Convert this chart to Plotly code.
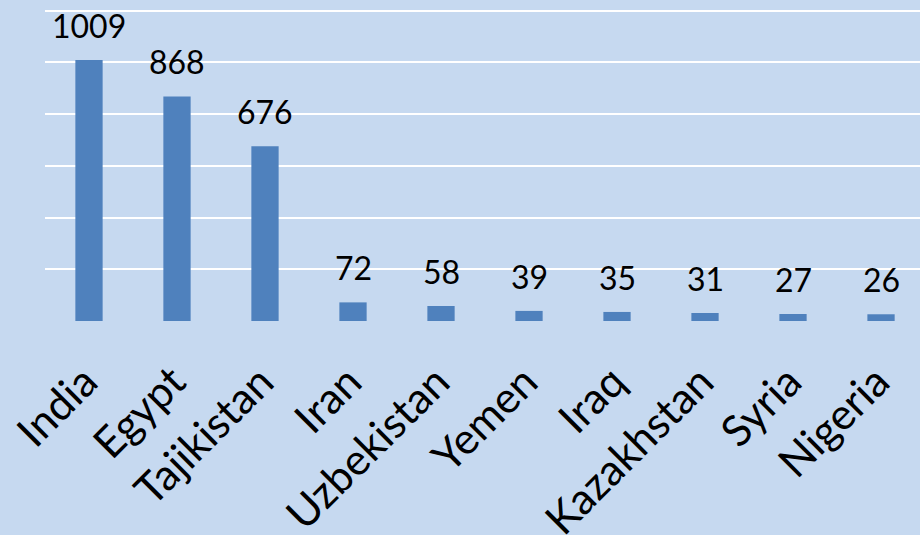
import plotly.graph_objects as go

countries = ["India", "Egypt", "Tajikistan", "Iran", "Uzbekistan", "Yemen",
             "Iraq", "Kazakhstan", "Syria", "Nigeria"]
values = [1009, 868, 676, 72, 58, 39, 35, 31, 27, 26]

BG = "#C6D9F0"
BAR = "#4F81BD"
FONT = "Lato"

fig = go.Figure()
fig.add_trace(go.Bar(
    x=countries, y=values, marker=dict(color=BAR, line=dict(width=0)),
    width=0.31, hoverinfo="skip"))

for c, v in zip(countries, values):
    fig.add_annotation(x=c, y=v, text=str(v), showarrow=False,
                       yanchor="bottom", yshift=13,
                       font=dict(family=FONT, size=32, color="black"))

fig.update_layout(
    width=920, height=535,
    margin=dict(l=45, r=0, t=8, b=214, autoexpand=False),
    paper_bgcolor=BG, plot_bgcolor=BG,
    showlegend=False,
    font=dict(family=FONT, color="black"),
    xaxis=dict(range=[-0.5, 9.443], showgrid=False, zeroline=False,
               showline=False, ticks="", tickangle=-45,
               tickfont=dict(family=FONT, size=43, color="black"),
               automargin=False, ticklabelstandoff=26, ticklabelshift=-4),
    yaxis=dict(range=[0, 1210], tickvals=[0, 200, 400, 600, 800, 1000, 1200],
               showgrid=True, gridcolor="white",
               gridwidth=2, zeroline=False, showline=False,
               showticklabels=False, ticks="", automargin=False),
)

fig.write_html(
    "out.html",
    config={"displayModeBar": False},
    post_script="document.body.style.margin='0';document.body.style.overflow='hidden';")
